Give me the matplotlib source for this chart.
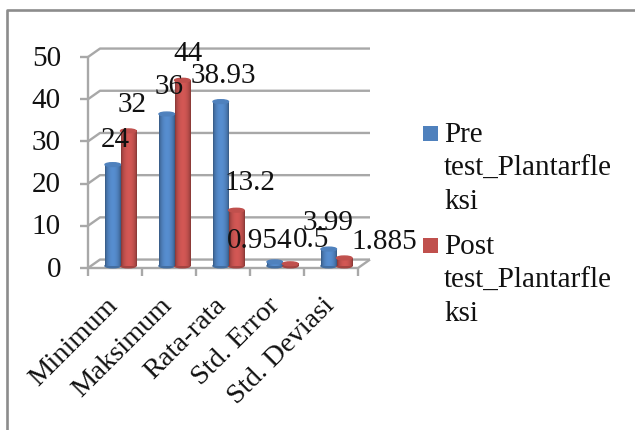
#!/usr/bin/env python3
import matplotlib
matplotlib.use("Agg")
import matplotlib.pyplot as plt
import numpy as np
from matplotlib.patches import Ellipse, Rectangle

W, H = 635, 430

categories = ["Minimum", "Maksimum", "Rata-rata", "Std. Error", "Std. Deviasi"]
pre_values = [24, 36, 38.93, 0.954, 3.99]
post_values = [32, 44, 13.2, 0.5, 1.885]
y_ticks = [0, 10, 20, 30, 40, 50]
series_names = ["Pre\ntest_Plantarfle\nksi", "Post\ntest_Plantarfle\nksi"]

plt.rcParams["font.family"] = ["Liberation Serif", "DejaVu Serif"]

GRID = "#a8a8a8"
BLUE = "#4f81bd"
RED = "#c0504d"
INK = "#111111"

# depth of the fake 3D box, in data units
DEPTH_X = 12 / 54
DEPTH_Y = 2.0
BAR_W = 15.5 / 54
BASE = 0.5
FLOOR = 0.5
CAP_H = 0.9


def shade(hex_color):
    # horizontal shading across a cylinder: darker at both edges
    c = np.array(matplotlib.colors.to_rgb(hex_color))
    t = np.linspace(0, 1, 32)
    k = 0.68 + 0.42 * np.sin(np.pi * t) ** 0.6
    return np.clip(c[None, None, :] * k[None, :, None], 0, 1)


def cylinder(ax, x0, value, color):
    top = value + BASE
    im = ax.imshow(shade(color), extent=(x0, x0 + BAR_W, FLOOR, top), aspect="auto",
                   zorder=3, interpolation="bilinear")
    im.set_clip_on(False)
    ax.add_patch(Ellipse((x0 + BAR_W / 2, top), BAR_W, CAP_H, color=color,
                         zorder=4, clip_on=False))
    ax.add_patch(Ellipse((x0 + BAR_W / 2, FLOOR), BAR_W, CAP_H,
                         color=np.array(matplotlib.colors.to_rgb(color)) * 0.85,
                         zorder=2.9, clip_on=False))


fig = plt.figure(figsize=(W / 100, H / 100), dpi=100)
ax = fig.add_axes([88 / W, 1 - 268 / H, 270 / W, 211 / H])
ax.set_xlim(0, 5)
ax.set_ylim(0, 50)
ax.axis("off")

# picture frame, only the left and top edges are inside the crop
fig.add_artist(plt.Line2D([7 / W, 7 / W, 1], [0, 1 - 10 / H, 1 - 10 / H],
                          color="#8c8c8c", lw=1.9, transform=fig.transFigure))

# gridlines on the back wall and their returns to the value axis
line = dict(color=GRID, lw=1.7, clip_on=False, zorder=1, solid_capstyle="butt")
for v in y_ticks:
    ax.plot([0, DEPTH_X, 5 + DEPTH_X], [v, v + DEPTH_Y, v + DEPTH_Y], **line)
    ax.plot([-8 / 54, 0], [v, v], **line)
    ax.text(-27 / 54, v - 0.4, str(v), ha="right", va="center", fontsize=21,
            color=INK, clip_on=False)
ax.plot([0, 0], [0, 50], **line)
ax.plot([0, 5, 5 + DEPTH_X], [0, 0, DEPTH_Y], **line)
for i in range(6):
    ax.plot([i, i], [0, -8 / 4.22], **line)

# value labels were moved by hand to dodge each other: (dx, dy) in pixels
pre_nudge = [(3, 25), (2, 27), (3, 26), (-15, 21), (-1, 26)]
post_nudge = [(4, 26), (6, 26), (14, 27), (21, 24), (40, 16)]

for i, cat in enumerate(categories):
    x_pre = i + 17 / 54
    x_post = x_pre + BAR_W
    cylinder(ax, x_pre, pre_values[i], BLUE)
    cylinder(ax, x_post, post_values[i], RED)
    for x0, val, nudge in ((x_pre, pre_values[i], pre_nudge[i]),
                           (x_post, post_values[i], post_nudge[i])):
        ax.text(x0 + BAR_W / 2 + nudge[0] / 54, val + BASE + nudge[1] / 4.22, str(val),
                ha="center", va="center", fontsize=21, color=INK,
                clip_on=False, zorder=6)
    ax.text(i + 0.62 - 16 / 54, -(12 + 13) / 4.22, cat, rotation=45, ha="right", va="top",
            rotation_mode="anchor", fontsize=20.5, color=INK, clip_on=False)

# legend, laid out by hand since the labels wrap mid-word
for y_top, color, name in ((126, BLUE, series_names[0]), (238, RED, series_names[1])):
    fig.add_artist(Rectangle((423 / W, 1 - (y_top + 15) / H), 15 / W, 15 / H,
                             facecolor=color, edgecolor="none",
                             transform=fig.transFigure))
    fig.text(444 / W, 1 - (y_top - 4) / H, name, ha="left", va="top", fontsize=21,
             color=INK, linespacing=1.38)

fig.savefig("out.png", dpi=100)
